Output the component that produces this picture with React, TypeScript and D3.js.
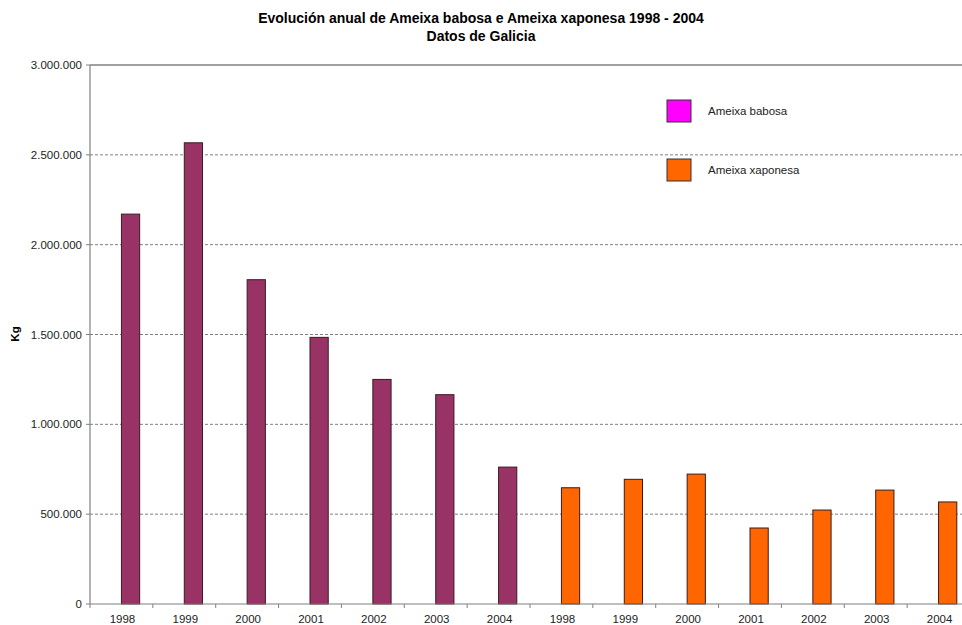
import React from "react";
import * as d3 from "d3";

const years = ["1998", "1999", "2000", "2001", "2002", "2003", "2004"];
const seriesNames = ["Ameixa babosa", "Ameixa xaponesa"];
const babosa = [2170000, 2567000, 1805000, 1484000, 1250000, 1165000, 762000];
const xaponesa = [647000, 694000, 723000, 423000, 523000, 634000, 568000];
const yTicks = [0, 500000, 1000000, 1500000, 2000000, 2500000, 3000000];
const barColors = ["#993366", "#FF6600"];
const legendColors = ["#FF00FF", "#FF6600"];

const W = 962;
const H = 625;
const left = 90;
const right = 970;
const top = 65;
const bottom = 604;

const fmt = (v: number) => d3.format(",")(v).replace(/,/g, ".");

export default function App() {
  const cats = [
    ...years.map((y, i) => ({ key: "b" + i, label: y, value: babosa[i], s: 0 })),
    ...years.map((y, i) => ({ key: "x" + i, label: y, value: xaponesa[i], s: 1 })),
  ];
  const x = d3.scaleBand<string>().domain(cats.map((c) => c.key)).range([left, right]).padding(0);
  const y = d3.scaleLinear().domain([0, 3000000]).range([bottom, top]);
  const bw = x.bandwidth();
  const barW = bw * 0.29;
  const font = "Arial, 'Liberation Sans', sans-serif";

  return (
    <div style={{ position: "absolute", left: 0, top: 0 }}>
      <svg width={W} height={H} style={{ display: "block", background: "#fff" }} fontFamily={font}>
        <text x={481} y={23} textAnchor="middle" fontSize={14} fontWeight="bold" fill="#000">
          Evolución anual de Ameixa babosa e Ameixa xaponesa 1998 - 2004
        </text>
        <text x={481} y={41} textAnchor="middle" fontSize={14} fontWeight="bold" fill="#000">
          Datos de Galicia
        </text>
        {/* gridlines */}
        {yTicks.filter((t) => t > 0 && t < 3000000).map((t) => (
          <line key={t} x1={left} x2={right} y1={y(t)} y2={y(t)} stroke="#808080" strokeWidth={1} strokeDasharray="3,2" />
        ))}
        <line x1={left} x2={right} y1={y(3000000)} y2={y(3000000)} stroke="#808080" strokeWidth={1.5} />
        {/* bars */}
        {cats.map((c) => (
          <rect
            key={c.key}
            x={(x(c.key) as number) + bw / 2}
            y={y(c.value)}
            width={barW}
            height={bottom - y(c.value)}
            fill={barColors[c.s]}
            stroke="#3a1a20"
            strokeWidth={1}
          />
        ))}
        {/* axes */}
        <line x1={left} x2={left} y1={top} y2={bottom} stroke="#808080" strokeWidth={1.2} />
        <line x1={left} x2={right} y1={bottom} y2={bottom} stroke="#808080" strokeWidth={1.2} />
        {yTicks.map((t) => (
          <g key={t}>
            <line x1={left - 4} x2={left} y1={y(t)} y2={y(t)} stroke="#808080" />
            <text x={left - 8} y={y(t) + 4} textAnchor="end" fontSize={11.5} fill="#222">
              {fmt(t)}
            </text>
          </g>
        ))}
        {cats.map((c) => (
          <g key={"t" + c.key}>
            <line x1={x(c.key) as number} x2={x(c.key) as number} y1={bottom} y2={bottom + 4} stroke="#808080" />
            <text x={(x(c.key) as number) + bw / 2 + 1} y={623} textAnchor="middle" fontSize={11.5} fill="#222">
              {c.label}
            </text>
          </g>
        ))}
        <text transform={`translate(19,334) rotate(-90)`} textAnchor="middle" fontSize={11.5} fontWeight="bold" fill="#000">
          Kg
        </text>
        {/* legend */}
        {seriesNames.map((n, i) => (
          <g key={n} transform={`translate(667,${100 + i * 59})`}>
            <rect x={0} y={0} width={24} height={22} fill={legendColors[i]} stroke="#333" strokeWidth={1} />
            <text x={41} y={15} fontSize={11.5} fill="#222">
              {n}
            </text>
          </g>
        ))}
      </svg>
    </div>
  );
}
